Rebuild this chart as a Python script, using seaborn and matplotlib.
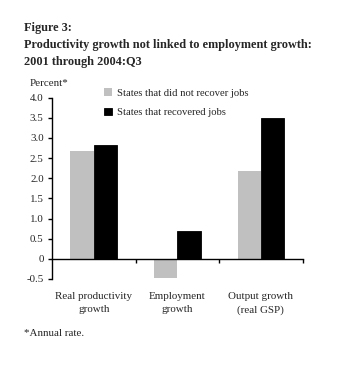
import matplotlib
matplotlib.use("Agg")
import matplotlib.pyplot as plt
import seaborn as sns
import pandas as pd
from matplotlib.ticker import FixedLocator

categories = ["Real productivity\ngrowth", "Employment\ngrowth", "Output growth\n(real GSP)"]
series_names = ["States that did not recover jobs", "States that recovered jobs"]
not_recovered = [2.67, -0.48, 2.17]
recovered = [2.82, 0.68, 3.50]
y_ticks = [-0.5, 0, 0.5, 1.0, 1.5, 2.0, 2.5, 3.0, 3.5, 4.0]
y_tick_labels = ["-0.5", "0", "0.5", "1.0", "1.5", "2.0", "2.5", "3.0", "3.5", "4.0"]

df = pd.DataFrame({
    "category": categories * 2,
    "series": [series_names[0]] * 3 + [series_names[1]] * 3,
    "value": not_recovered + recovered,
})

sns.set_theme(style="white")
plt.rcParams["font.family"] = ["Liberation Serif", "DejaVu Serif"]

W, H = 340, 366
fig = plt.figure(figsize=(W / 100, H / 100), dpi=100)
fig.patch.set_facecolor("white")

x0, x1, ytop, ybot = 52, 302.7, 97.5, 279
ax = fig.add_axes([x0 / W, (H - ybot) / H, (x1 - x0) / W, (ybot - ytop) / H])

palette = {series_names[0]: "#c0c0c0", series_names[1]: "#000000"}
sns.barplot(data=df, x="category", y="value", hue="series", palette=palette,
            width=0.56, ax=ax, saturation=1, legend=True, errorbar=None)
for p in ax.patches:
    fc = p.get_facecolor()
    if fc[0] < 0.1:
        p.set_edgecolor("black")
        p.set_linewidth(0.6)
    else:
        p.set_linewidth(0)

ax.set_xlim(-0.5, 2.5)
ax.set_ylim(-0.5, 4.0)
ax.set_xlabel("")
ax.set_ylabel("")
ax.set_yticks(y_ticks)
ax.set_yticklabels(y_tick_labels)
for s in ["top", "right"]:
    ax.spines[s].set_visible(False)
ax.spines["left"].set_color("black")
ax.spines["left"].set_linewidth(1.0)
ax.spines["bottom"].set_position(("data", 0))
ax.spines["bottom"].set_color("black")
ax.spines["bottom"].set_linewidth(1.0)
ax.tick_params(axis="y", which="major", direction="out", length=3, width=1,
               labelsize=7.9, pad=3, left=True, color="black")
ax.xaxis.set_minor_locator(FixedLocator([0.5, 1.5, 2.5]))
ax.tick_params(axis="x", which="minor", direction="out", length=3, width=1,
               bottom=True, color="black")
ax.tick_params(axis="x", which="major", length=0, labelsize=7.9, pad=24)
for lab in ax.get_xticklabels():
    lab.set_linespacing(1.55)

ax.legend(loc="upper left", bbox_to_anchor=(48 / (x1 - x0), 1.075),
          frameon=False, fontsize=7.7, handlelength=0.7, handleheight=0.7,
          handletextpad=0.5, labelspacing=0.95, borderaxespad=0)

tkw = dict(fontsize=8.8, fontweight="bold", va="center", ha="left")
fig.text(24 / W, 1 - 28 / H, "Figure 3:", **tkw)
fig.text(24 / W, 1 - 45 / H, "Productivity growth not linked to employment growth:", **tkw)
fig.text(24 / W, 1 - 62 / H, "2001 through 2004:Q3", **tkw)
fig.text(30 / W, 1 - 83 / H, "Percent*", fontsize=7.9, va="center", ha="left")
fig.text(24 / W, 1 - 333 / H, "*Annual rate.", fontsize=7.9, va="center", ha="left")

fig.savefig("out.png", dpi=100, facecolor="white")
